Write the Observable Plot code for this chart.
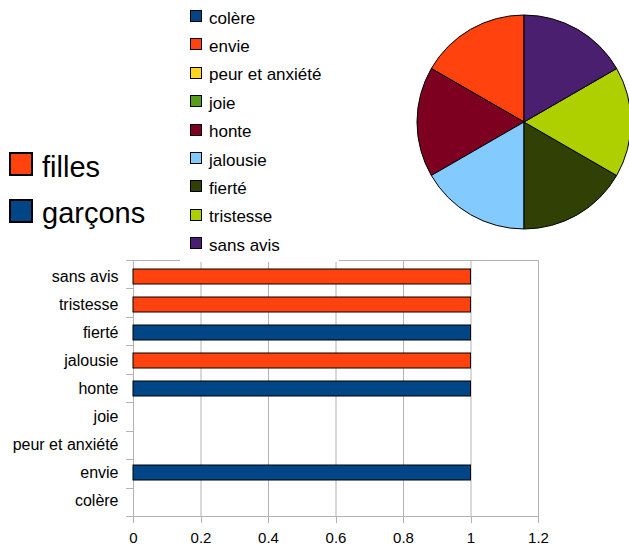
<!DOCTYPE html>
<html><head><meta charset="utf-8">
<script src="https://cdn.jsdelivr.net/npm/d3@7"></script>
<script src="https://cdn.jsdelivr.net/npm/@observablehq/plot@0.6"></script>
<style>
html,body{margin:0;padding:0;background:#fff;overflow:hidden}
#root{position:relative;width:629px;height:552px;overflow:hidden;font-family:"Liberation Sans",Arial,sans-serif;color:#000}
.abs{position:absolute}
.sw{position:absolute;box-sizing:border-box;border:1px solid #000}
.lt{position:absolute;white-space:nowrap}
</style></head><body><div id="root"></div>
<script>
const categories = ["colère","envie","peur et anxiété","joie","honte","jalousie","fierté","tristesse","sans avis"];
const categoryColors = ["#004586","#ff420e","#ffd320","#579d1c","#7e0021","#83caff","#314004","#aecf00","#4b1f6f"];
const pieValues = [0,1,0,0,1,1,1,1,1];
const series = ["filles","garçons"];
const seriesColors = ["#ff420e","#004586"];
const fillesValues = [0,0,0,0,0,1,0,1,1];
const garconsValues = [0,1,0,0,1,0,1,0,0];
const xTicks = [0,0.2,0.4,0.6,0.8,1,1.2];

const gray = "#b3b3b3";
const root = document.getElementById("root");
const n = categories.length;

const rows = categories.flatMap((c,i)=>[
  {category:c, series:"filles", value:fillesValues[i]},
  {category:c, series:"garçons", value:garconsValues[i]}
]).filter(d=>d.value>0);

const bar = Plot.plot({
  width:629, height:552, marginLeft:133, marginRight:91, marginTop:260, marginBottom:36,
  style:{fontFamily:"'Liberation Sans', Arial, sans-serif", color:"#000", background:"transparent"},
  x:{domain:[0,1.2]},
  y:{domain:categories.slice().reverse(), paddingInner:0.47, paddingOuter:0.235},
  color:{domain:series, range:seriesColors},
  marks:[
    Plot.gridX(xTicks,{stroke:gray, strokeOpacity:1}),
    Plot.frame({stroke:gray}),
    (index, scales, values, dims) => {
      const g = d3.create("svg:g").attr("stroke", gray).attr("stroke-width",1);
      const top = dims.marginTop, bottom = dims.height - dims.marginBottom;
      const step = (bottom - top)/n;
      for (let i=0;i<=n;i++){
        const y = Math.round(top + i*step) + 0.5;
        g.append("line").attr("x1", dims.marginLeft-7).attr("x2", dims.marginLeft).attr("y1",y).attr("y2",y);
      }
      for (const t of xTicks){
        const x = Math.round(scales.x(t)) + 0.5;
        g.append("line").attr("x1",x).attr("x2",x).attr("y1",bottom).attr("y2",bottom+7);
      }
      return g.node();
    },
    Plot.barX(rows,{x:"value", y:"category", fill:"series", stroke:"#000", strokeWidth:1}),
    Plot.axisX(xTicks,{tickSize:0, tickPadding:16, tickFormat:d=>String(d), fontSize:15, label:null, fill:"#000"}),
    Plot.axisY({tickSize:0, tickPadding:15, fontSize:16, label:null, fill:"#000"})
  ]
});
bar.style.position="absolute"; bar.style.left="0px"; bar.style.top="0px";
root.appendChild(bar);

// white background of the pie legend
const box = document.createElement("div");
box.className="abs";
Object.assign(box.style,{left:"180px",top:"0px",width:"159px",height:"262px",background:"#fff"});
root.appendChild(box);

// pie legend
categories.forEach((c,i)=>{
  const y = 10 + i*28.4;
  const sw = document.createElement("div");
  sw.className="sw";
  Object.assign(sw.style,{left:"190px",top:y+"px",width:"12px",height:"12px",background:categoryColors[i]});
  root.appendChild(sw);
  const t = document.createElement("div");
  t.className="lt";
  t.textContent=c;
  Object.assign(t.style,{left:"209px",top:(y-0.5)+"px",fontSize:"17px",lineHeight:"17px"});
  root.appendChild(t);
});

// bar legend
series.forEach((s,i)=>{
  const y = 152 + i*46.5;
  const sw = document.createElement("div");
  sw.className="sw";
  Object.assign(sw.style,{left:"9px",top:y+"px",width:"24px",height:"24px",background:seriesColors[i],border:"2px solid #000"});
  root.appendChild(sw);
  const t = document.createElement("div");
  t.className="lt";
  t.textContent=s;
  Object.assign(t.style,{left:"42px",top:(y+0.5)+"px",fontSize:"29px",lineHeight:"29px"});
  root.appendChild(t);
});

// pie
const pieColor = Plot.scale({color:{type:"ordinal", domain:categories, range:categoryColors}});
const pieData = categories.map((c,i)=>({category:c, value:pieValues[i]})).filter(d=>d.value>0);
const pie = Plot.plot({
  width:240, height:240, margin:0,
  style:{background:"transparent", overflow:"visible"},
  marks:[
    (index, scales, values, dims) => {
      const arcs = d3.pie().value(d=>d.value).sort(null).startAngle(0).endAngle(-2*Math.PI)(pieData);
      const arc = d3.arc().innerRadius(0).outerRadius(107);
      const g = d3.create("svg:g").attr("transform", `translate(${dims.width/2},${dims.height/2})`);
      g.selectAll("path").data(arcs).join("path")
        .attr("d", arc)
        .attr("fill", d=>pieColor.apply(d.data.category))
        .attr("stroke","#000").attr("stroke-width",1).attr("stroke-linejoin","round");
      return g.node();
    }
  ]
});
pie.style.position="absolute"; pie.style.left="404px"; pie.style.top="2px";
root.appendChild(pie);
</script>
</body></html>
